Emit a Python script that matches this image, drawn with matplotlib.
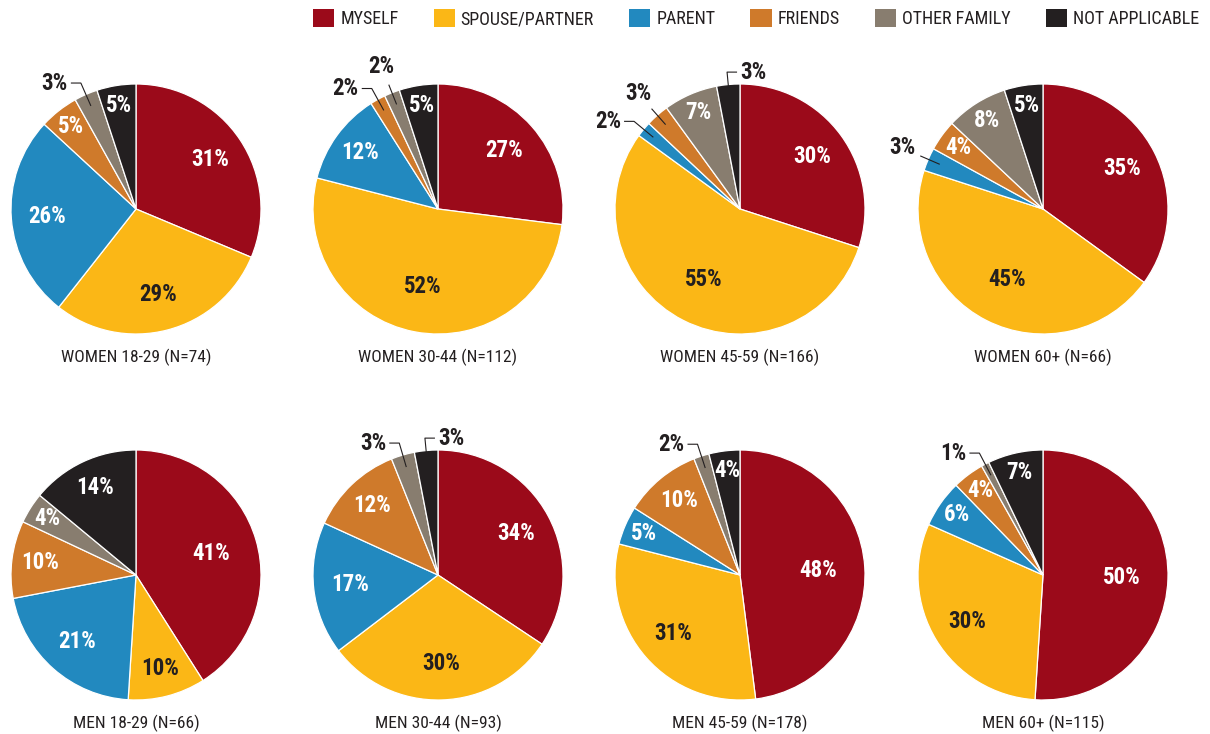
import matplotlib
matplotlib.use('Agg')
import matplotlib.pyplot as plt
from matplotlib.patches import Patch
import numpy as np

plt.rcParams['font.family'] = ['Roboto Condensed', 'Roboto', 'DejaVu Sans']

categories = ['MYSELF', 'SPOUSE/PARTNER', 'PARENT', 'FRIENDS', 'OTHER FAMILY', 'NOT APPLICABLE']
colors = ['#9b0a1a', '#fbb716', '#2289bf', '#cf7a2b', '#887d6f', '#231f20']

titles = ['WOMEN 18-29 (N=74)', 'WOMEN 30-44 (N=112)', 'WOMEN 45-59 (N=166)', 'WOMEN 60+ (N=66)',
          'MEN 18-29 (N=66)', 'MEN 30-44 (N=93)', 'MEN 45-59 (N=178)', 'MEN 60+ (N=115)']

# percent per category, same order as categories
women_18_29 = [31, 29, 26, 5, 3, 5]
women_30_44 = [27, 52, 12, 2, 2, 5]
women_45_59 = [30, 55, 2, 3, 7, 3]
women_60 = [35, 45, 3, 4, 8, 5]
men_18_29 = [41, 10, 21, 10, 4, 14]
men_30_44 = [34, 30, 17, 12, 3, 3]
men_45_59 = [48, 31, 5, 10, 2, 4]
men_60 = [50, 30, 6, 4, 1, 7]

all_values = [women_18_29, women_30_44, women_45_59, women_60,
              men_18_29, men_30_44, men_45_59, men_60]

# small slices labelled outside: (pie, slice) -> how the leader is drawn
outside = {(0, 4): 'left', (1, 3): 'left', (1, 4): 'radial', (2, 2): 'left',
           (2, 3): 'radial', (2, 5): 'right', (3, 2): 'radial',
           (5, 4): 'left', (5, 5): 'right', (6, 4): 'left', (7, 4): 'left'}

W, H = 1210, 734
fig = plt.figure(figsize=(W / 100, H / 100), dpi=100)

dark = '#231f20'
cx_list = [136, 438, 740, 1043]
cy_list = [209, 575]
r_px = 125
pct_size = 16.5


def label_radius(v):
    if v >= 40:
        return 0.63
    if v >= 15:
        return 0.71
    if v >= 10:
        return 0.77
    return 0.84


for i, vals in enumerate(all_values):
    cx = cx_list[i % 4]
    cy = cy_list[i // 4]
    ax = fig.add_axes([(cx - r_px) / W, 1 - (cy + r_px) / H, 2 * r_px / W, 2 * r_px / H])
    wedges, _ = ax.pie(vals, colors=colors, startangle=90, counterclock=False, radius=1,
                       wedgeprops=dict(edgecolor='white', linewidth=0.9))
    ax.set_xlim(-1, 1)
    ax.set_ylim(-1, 1)
    ax.axis('off')

    for j, w in enumerate(wedges):
        ang = np.deg2rad((w.theta1 + w.theta2) / 2)
        ca, sa = np.cos(ang), np.sin(ang)
        txt = f'{vals[j]}%'
        kind = outside.get((i, j))
        if kind is None:
            rr = label_radius(vals[j])
            col = dark if j == 1 else 'white'
            ax.text(rr * ca, rr * sa, txt, ha='center', va='center', color=col,
                    fontsize=pct_size, fontweight='bold', clip_on=False)
        elif kind == 'radial':
            ax.plot([0.9 * ca, 1.07 * ca], [0.9 * sa, 1.07 * sa], color=dark, lw=0.8,
                    clip_on=False, solid_capstyle='butt')
            ax.text(1.23 * ca, 1.23 * sa, txt, ha='center', va='center', color=dark,
                    fontsize=pct_size, fontweight='bold', clip_on=False)
        else:
            ex, ey = 1.1 * ca, 1.1 * sa
            step = 0.08 if kind == 'right' else -0.08
            ax.plot([0.9 * ca, ex, ex + step], [0.9 * sa, ey, ey], color=dark, lw=0.8,
                    clip_on=False, solid_capstyle='butt')
            ax.text(ex + step * 1.3, ey, txt, ha='left' if kind == 'right' else 'right',
                    va='center', color=dark, fontsize=pct_size, fontweight='bold', clip_on=False)

    fig.text(cx / W, 1 - (cy + 148) / H, titles[i], ha='center', va='center',
             fontsize=12.5, color=dark)

handles = [Patch(facecolor=c, edgecolor='none') for c in colors]
fig.legend(handles, categories, loc='upper right', bbox_to_anchor=(1199 / W, 1 - 9 / H),
           ncol=6, frameon=False, fontsize=13, handlelength=1.17, handleheight=1.17,
           handletextpad=0.33, columnspacing=1.95, borderpad=0, borderaxespad=0,
           labelcolor=dark)

fig.savefig('out.png', dpi=100)
